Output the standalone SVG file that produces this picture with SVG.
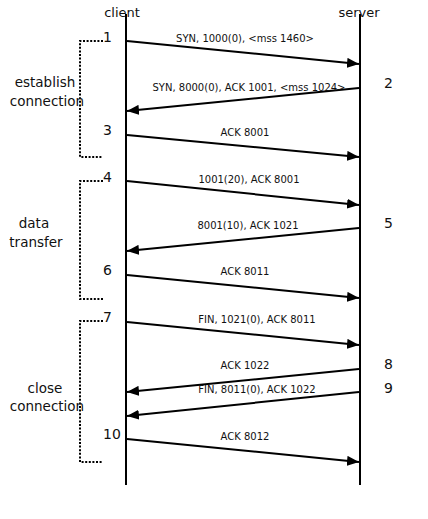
<svg xmlns="http://www.w3.org/2000/svg" width="428" height="519" viewBox="0 0 428 519">
<style>
text{font-family:"DejaVu Sans","Liberation Sans",sans-serif;fill:#111}
.hd{font-size:13px;text-anchor:middle}
.num{font-size:14px}
.lbl{font-size:10px;text-anchor:middle}
.phase{font-size:13.5px;text-anchor:middle}
.life{stroke:#000;stroke-width:2;fill:none}
.msg{stroke:#000;stroke-width:2;fill:none;marker-end:url(#ah)}
.br{stroke:#000;stroke-width:2;fill:none;stroke-dasharray:2 1.6}
</style>
<defs>
<marker id="ah" markerUnits="userSpaceOnUse" markerWidth="12" markerHeight="10" refX="12" refY="5" orient="auto">
<path d="M0,0 L12,5 L0,10 Z" fill="#000"/>
</marker>
</defs>
<rect width="428" height="519" fill="#fff"/>
<g id="client">
<text class="hd" x="122" y="17">client</text>
<line class="life" x1="126" y1="14" x2="126" y2="485"/>
</g>
<g id="server">
<text class="hd" x="359" y="17">server</text>
<line class="life" x1="360" y1="14" x2="360" y2="485"/>
</g>
<g id="phase-establish">
<path class="br" d="M103,41 H80 V157 H103"/>
<text class="phase" x="45" y="87">establish</text>
<text class="phase" x="47" y="106">connection</text>
</g>
<g id="phase-data">
<path class="br" d="M103,181 H80 V299 H103"/>
<text class="phase" x="34" y="228">data</text>
<text class="phase" x="36" y="247">transfer</text>
</g>
<g id="phase-close">
<path class="br" d="M103,321 H80 V462 H103"/>
<text class="phase" x="45" y="393">close</text>
<text class="phase" x="47" y="411">connection</text>
</g>
<g id="steps">
<text class="num" x="103" y="42">1</text>
<text class="num" x="384" y="88">2</text>
<text class="num" x="103" y="135">3</text>
<text class="num" x="103" y="182">4</text>
<text class="num" x="384" y="228">5</text>
<text class="num" x="103" y="275">6</text>
<text class="num" x="103" y="322">7</text>
<text class="num" x="384" y="369">8</text>
<text class="num" x="384" y="393">9</text>
<text class="num" x="103" y="439">10</text>
</g>
<g id="connectors">
<line class="msg" x1="127" y1="41" x2="359" y2="64"/>
<line class="msg" x1="359" y1="88" x2="127" y2="111"/>
<line class="msg" x1="127" y1="135" x2="359" y2="157"/>
<line class="msg" x1="127" y1="181" x2="359" y2="205"/>
<line class="msg" x1="359" y1="228" x2="127" y2="251"/>
<line class="msg" x1="127" y1="275" x2="359" y2="298"/>
<line class="msg" x1="127" y1="322" x2="359" y2="345"/>
<line class="msg" x1="359" y1="369" x2="127" y2="392"/>
<line class="msg" x1="359" y1="392" x2="127" y2="416"/>
<line class="msg" x1="127" y1="439" x2="359" y2="462"/>
<text class="lbl" x="245" y="42">SYN, 1000(0), &lt;mss 1460&gt;</text>
<text class="lbl" x="249" y="91">SYN, 8000(0), ACK 1001, &lt;mss 1024&gt;</text>
<text class="lbl" x="245" y="136">ACK 8001</text>
<text class="lbl" x="249" y="183">1001(20), ACK 8001</text>
<text class="lbl" x="248" y="229">8001(10), ACK 1021</text>
<text class="lbl" x="245" y="275">ACK 8011</text>
<text class="lbl" x="257" y="323">FIN, 1021(0), ACK 8011</text>
<text class="lbl" x="245" y="369">ACK 1022</text>
<text class="lbl" x="257" y="393">FIN, 8011(0), ACK 1022</text>
<text class="lbl" x="245" y="440">ACK 8012</text>
</g>
</svg>
